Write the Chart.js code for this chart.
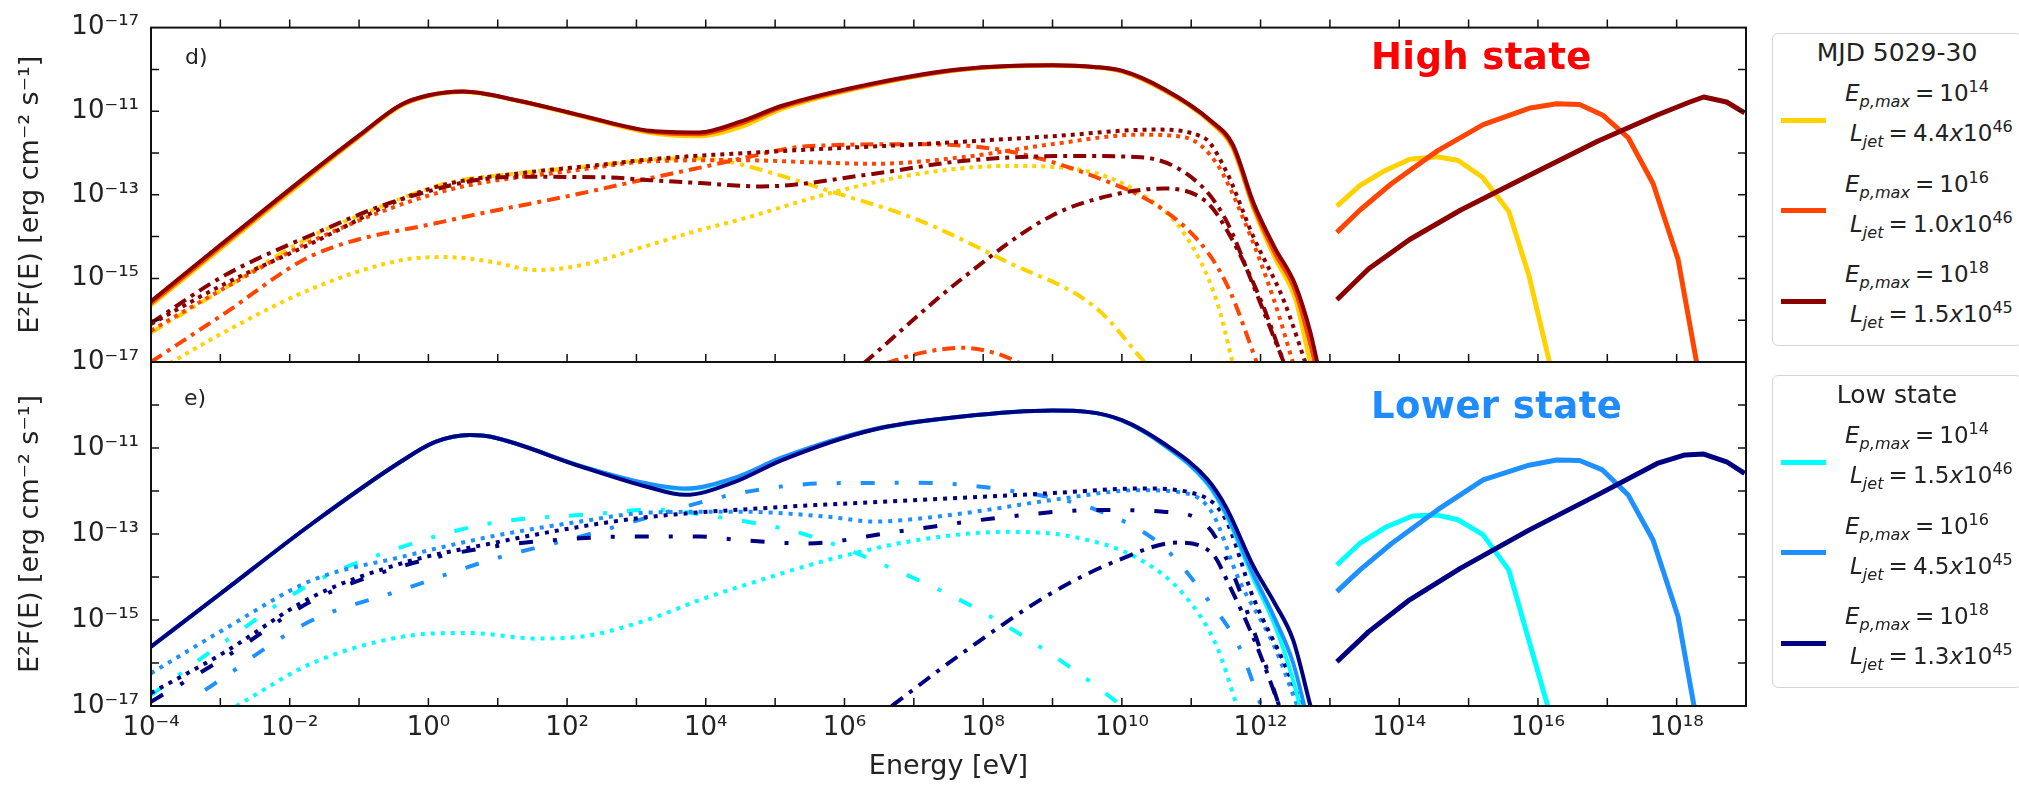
<!DOCTYPE html>
<html>
<head>
<meta charset="utf-8">
<script src="https://cdn.jsdelivr.net/npm/chart.js@4.4.1/dist/chart.umd.min.js"></script>
<style>
html,body{margin:0;padding:0;background:#fff;width:2019px;height:785px;overflow:hidden;}
#wrap{position:relative;width:2019px;height:785px;overflow:hidden;}
canvas{position:absolute;left:0;top:0;}
.t{position:absolute;font-family:"DejaVu Sans";color:#222;white-space:nowrap;}
.box{position:absolute;border:1.5px solid #d4d4d4;border-radius:6px;background:#fff;box-sizing:border-box;}
.mk{position:absolute;height:5px;}
.sb{font-size:70%;position:relative;top:0.38em;font-style:italic;}
.sp{font-size:70%;position:relative;top:-0.55em;}
.eq{margin:0 0.22em;}
</style>
</head>
<body>
<div id="wrap">
<canvas id="cd" width="2019" height="785"></canvas>
<canvas id="ce" width="2019" height="785"></canvas>
</div>
<script>
// ---------------- DATA (log10 E [eV], log10 E^2F(E) [erg cm^-2 s^-1]) ----------------
// Tick labels
const xLabelExps = [-4, -2, 0, 2, 4, 6, 8, 10, 12, 14, 16, 18];
const xTickLabels = ['10⁻⁴', '10⁻²', '10⁰', '10²', '10⁴', '10⁶', '10⁸', '10¹⁰', '10¹²', '10¹⁴', '10¹⁶', '10¹⁸'];
const xMarkExps = [-3, -2, -1, 0, 1, 2, 3, 4, 5, 6, 7, 8, 9, 10, 11, 12, 13, 14, 15, 16, 17, 18];
const yMarkExps = [-16, -15, -14, -13, -12, -11, -10];
const yLabelExpsHigh = [-17, -15, -13, -11, -9];
const yTickLabelsHigh = ['10⁻¹⁷', '10⁻¹⁵', '10⁻¹³', '10⁻¹¹', '10⁻¹⁷'];
const yLabelExpsLow = [-17, -15, -13, -11];
const yTickLabelsLow = ['10⁻¹⁷', '10⁻¹⁵', '10⁻¹³', '10⁻¹¹'];
const xTitle = 'Energy [eV]';
const yTitle = 'E²F(E) [erg cm⁻² s⁻¹]';

// ---- Panel d (high state) ----
const hiE_tot = [-4, -3, -2, -1, -0.4, 0.0, 0.5, 1.3, 2.2, 3.2, 3.9, 4.5, 5.1, 6.4, 7.7, 9.0, 9.6, 10.0, 10.6, 11.3, 11.6, 11.9, 12.2, 12.5, 12.72, 12.82];
const hiTotYellow  = [-15.65, -14.3, -12.95, -11.62, -10.88, -10.64, -10.54, -10.76, -11.12, -11.52, -11.6, -11.38, -10.95, -10.38, -10.01, -9.91, -9.95, -10.05, -10.5, -11.3, -11.9, -13.35, -14.5, -15.5, -17.03, -17.5];
const hiTotOrange  = [-15.6, -14.25, -12.9, -11.6, -10.86, -10.63, -10.53, -10.75, -11.11, -11.49, -11.55, -11.3, -10.9, -10.36, -10.0, -9.9, -9.94, -10.04, -10.48, -11.27, -11.85, -13.28, -14.38, -15.3, -16.6, -17.3];
const hiTotDarkred = [-15.55, -14.2, -12.87, -11.58, -10.85, -10.62, -10.53, -10.75, -11.1, -11.47, -11.51, -11.25, -10.87, -10.34, -9.99, -9.9, -9.94, -10.03, -10.46, -11.25, -11.8, -13.2, -14.25, -15.15, -16.3, -17.03];

const hiE_dotYellow = [-3.73, -2.96, -1.67, -0.38, 0.25, 0.9, 1.55, 2.19, 3.15, 3.92, 4.48, 5.77, 7.06, 8.34, 9.31, 10.27, 10.92, 11.37, 11.6];
const hiDotYellow   = [-17.03, -16.3, -15.24, -14.56, -14.49, -14.6, -14.8, -14.69, -14.22, -13.84, -13.6, -12.97, -12.5, -12.31, -12.38, -12.97, -13.98, -15.55, -17.03];
const hiE_ddYellow = [-4, -3, -1.67, -1, 0.25, 1.2, 2.19, 3.2, 3.9, 4.3, 5.0, 5.77, 7.06, 8.34, 9.63, 10.34];
const hiDdYellow   = [-16.3, -15.3, -13.98, -13.5, -12.73, -12.5, -12.34, -12.16, -12.13, -12.2, -12.5, -12.9, -13.6, -14.6, -15.71, -17.03];

const hiE_dotOrange = [-4, -2.96, -1.67, 0.25, 2.19, 3.2, 4.48, 5.5, 6.41, 7.7, 8.99, 10.27, 10.92, 11.37, 11.76, 12.2, 12.47];
const hiDotOrange   = [-16.25, -15.25, -14.1, -12.9, -12.4, -12.2, -12.17, -12.22, -12.26, -12.1, -11.79, -11.56, -11.63, -12.26, -13.6, -15.55, -17.03];
const hiE_ddOrange = [-4, -2.96, -1.67, 0.25, 2.19, 3.2, 3.92, 4.6, 5.45, 7.06, 8.34, 9.63, 10.6, 11.24, 11.56, 11.95];
const hiDdOrange   = [-17.0, -15.86, -14.45, -13.63, -12.97, -12.6, -12.35, -12.1, -11.84, -11.79, -11.95, -12.58, -13.36, -14.38, -15.31, -17.03];
const hiE_dd2Orange = [6.6, 7.06, 7.7, 8.2, 8.54];
const hiDd2Orange   = [-17.03, -16.8, -16.66, -16.8, -17.03];

const hiE_dotDarkred = [-4, -2.96, -1.67, -0.38, 0.25, 1.5, 2.5, 3.2, 5.13, 7.06, 8.99, 10.46, 11.18, 11.5, 11.89, 12.34, 12.65];
const hiDotDarkred   = [-16.09, -15.15, -14.15, -13.1, -12.75, -12.45, -12.28, -12.15, -11.95, -11.79, -11.6, -11.44, -11.63, -12.42, -13.98, -15.55, -17.03];
const hiE_ddDarkred = [-4, -2.96, -1.67, -0.38, 1.22, 2.5, 3.2, 3.92, 4.8, 6.41, 7.7, 9.3, 10.27, 11.11, 11.5, 11.89, 12.34];
const hiDdDarkred   = [-16.07, -14.95, -13.95, -13.1, -12.57, -12.58, -12.65, -12.72, -12.8, -12.5, -12.19, -12.07, -12.1, -12.73, -13.6, -15.15, -17.03];
const hiE_dd2Darkred = [6.28, 7.7, 8.99, 9.96, 10.6, 11.24, 11.56, 12.01, 12.34];
const hiDd2Darkred   = [-17.03, -15.0, -13.5, -12.97, -12.85, -13.2, -13.98, -15.55, -17.03];

const hiE_nuYellow = [13.1, 13.43, 13.76, 14.15, 14.55, 14.85, 15.2, 15.58, 15.87, 16.17];
const hiNuYellow   = [-13.27, -12.78, -12.45, -12.15, -12.09, -12.18, -12.58, -13.4, -14.93, -17.03];
const hiE_nuOrange = [13.1, 13.43, 13.89, 14.55, 15.21, 15.87, 16.27, 16.6, 16.93, 17.3, 17.66, 18.02, 18.29];
const hiNuOrange   = [-13.9, -13.37, -12.73, -11.95, -11.32, -10.93, -10.82, -10.84, -11.09, -11.63, -12.73, -14.54, -17.03];
const hiE_nuDarkred = [13.1, 13.56, 14.15, 14.88, 15.87, 16.86, 17.72, 18.19, 18.39, 18.72, 18.98];
const hiNuDarkred   = [-15.51, -14.77, -14.07, -13.37, -12.54, -11.72, -11.09, -10.78, -10.66, -10.78, -11.04];

// ---- Panel e (lower state) ----
const loE_tot = [-4, -3, -1.67, -0.4, 0.1, 0.6, 0.9, 2.2, 3.15, 3.7, 4.4, 5.1, 6.4, 7.7, 9.0, 9.5, 10.0, 10.6, 11.24, 11.5, 11.9, 12.2, 12.47, 12.72];
const loTotCyan = [-15.62, -14.39, -12.75, -11.32, -10.86, -10.7, -10.74, -11.42, -11.84, -11.96, -11.72, -11.24, -10.58, -10.27, -10.13, -10.16, -10.36, -10.93, -11.85, -12.55, -14.05, -15.1, -16.4, -18.0];
const loTotBlue = [-15.62, -14.39, -12.75, -11.32, -10.86, -10.7, -10.74, -11.42, -11.82, -11.94, -11.7, -11.22, -10.57, -10.27, -10.13, -10.16, -10.36, -10.92, -11.82, -12.5, -13.95, -14.95, -16.0, -17.6];
const loTotNavy = [-15.62, -14.39, -12.75, -11.32, -10.86, -10.7, -10.74, -11.43, -11.9, -12.09, -11.8, -11.28, -10.58, -10.27, -10.13, -10.16, -10.35, -10.89, -11.74, -12.37, -13.76, -14.6, -15.47, -17.0];

const loE_dotCyan = [-2.77, -1.67, -0.38, 0.58, 1.55, 2.19, 3.15, 3.92, 4.48, 5.77, 7.06, 8.34, 9.31, 10.27, 10.92, 11.37, 11.66];
const loDotCyan   = [-17, -16.0, -15.39, -15.3, -15.43, -15.39, -15.0, -14.53, -14.23, -13.6, -13.14, -12.95, -13.07, -13.6, -14.46, -15.62, -17.0];
const loE_ddCyan = [-4, -2.96, -1.67, -0.38, 0.9, 2.52, 3.2, 4.16, 5.45, 6.74, 8.02, 9.31, 10.0];
const loDdCyan   = [-16.75, -15.53, -14.14, -13.3, -12.75, -12.52, -12.43, -12.6, -13.02, -13.84, -14.84, -16.16, -17];

const loE_dotBlue = [-4, -2.96, -1.67, -0.38, 0.9, 2.19, 3.2, 4.48, 5.77, 6.41, 7.7, 8.99, 10.27, 10.92, 11.3, 11.69, 12.2, 12.53];
const loDotBlue   = [-16.24, -15.23, -14.07, -13.53, -13.06, -12.71, -12.5, -12.48, -12.6, -12.71, -12.52, -12.21, -11.98, -12.05, -12.5, -14.07, -15.62, -17.0];
const loE_ddBlue = [-3.22, -2.79, -2.39, -1.67, -0.38, 0.9, 2.19, 3.2, 4.48, 5.77, 7.06, 8.34, 9.63, 10.6, 11.24, 11.69, 12.01];
const loDdBlue   = [-16.63, -16.16, -15.7, -15.0, -14.3, -13.6, -13.06, -12.6, -12.05, -11.82, -11.81, -11.98, -12.44, -13.3, -14.53, -15.62, -17];

const loE_dotNavy = [-4, -2.96, -1.67, -0.38, 0.9, 2.19, 3.2, 5.13, 7.06, 8.99, 10.27, 11.11, 11.5, 11.89, 12.34, 12.6];
const loDotNavy   = [-16.7, -15.77, -14.46, -13.68, -13.22, -12.83, -12.6, -12.37, -12.21, -12.05, -11.94, -12.09, -12.67, -14.46, -16.0, -17.0];
const loE_ddNavy = [-4, -2.96, -1.67, -0.38, 0.9, 2.19, 2.84, 3.92, 4.48, 5.45, 6.74, 8.34, 9.63, 10.6, 11.24, 11.56, 11.95, 12.27];
const loDdNavy   = [-16.9, -15.9, -14.55, -13.75, -13.3, -13.1, -13.06, -13.06, -13.14, -13.22, -12.95, -12.6, -12.44, -12.48, -12.83, -13.76, -15.47, -17];
const loE_dd2Navy = [6.68, 7.7, 8.99, 9.96, 10.8, 11.3, 11.56, 11.95, 12.27];
const loDd2Navy   = [-17, -15.77, -14.37, -13.6, -13.2, -13.45, -14.23, -15.62, -17];

const loE_nuCyan = [13.1, 13.43, 13.82, 14.19, 14.55, 14.85, 15.21, 15.58, 15.84, 16.14];
const loNuCyan   = [-13.72, -13.22, -12.83, -12.58, -12.56, -12.67, -13.02, -13.84, -15.31, -17];
const loE_nuBlue = [13.1, 13.43, 13.89, 14.55, 15.21, 15.87, 16.27, 16.6, 16.93, 17.3, 17.66, 18.02, 18.25];
const loNuBlue   = [-14.34, -13.84, -13.22, -12.44, -11.74, -11.4, -11.28, -11.29, -11.51, -12.09, -13.14, -14.92, -17];
const loE_nuNavy = [13.1, 13.56, 14.15, 14.88, 15.87, 16.86, 17.72, 18.12, 18.39, 18.72, 18.98];
const loNuNavy   = [-15.97, -15.27, -14.53, -13.8, -12.91, -12.09, -11.36, -11.16, -11.14, -11.32, -11.59];

// Legends
const hiLegendTitle = 'MJD 5029-30';
const loLegendTitle = 'Low state';
const legendEpExps = ['14', '16', '18'];
const hiLegendL = ['4.4', '1.0', '1.5'];
const hiLegendLExp = ['46', '46', '45'];
const loLegendL = ['1.5', '4.5', '1.3'];
const loLegendLExp = ['46', '45', '45'];

// ---------------- STYLE ----------------
const COL = {gold: '#FFD200', orange: '#FF4500', darkred: '#8B0000', cyan: '#00FFFF', blue: '#1E90FF', navy: '#000080'};
const DOT_D = [4, 5], DD_D = [13, 6, 4, 6];
const DOT_E = [4, 6], DD_E = [14, 20, 4, 20], DD2_E = [14, 8, 4, 8];

Chart.defaults.font.family = 'DejaVu Sans';
Chart.defaults.color = '#222';

function series(logE, logF, color, dash, width, straight) {
  return {
    data: logE.map((e, i) => ({x: Math.pow(10, e), y: Math.pow(10, logF[i])})),
    borderColor: color, backgroundColor: color, borderWidth: width,
    borderDash: dash || [], borderCapStyle: 'butt', borderJoinStyle: 'round',
    pointRadius: 0, pointHoverRadius: 0, fill: false,
    tension: straight ? 0 : 0.4,
    cubicInterpolationMode: straight ? 'default' : 'monotone'
  };
}

const framePlugin = {
  id: 'frame',
  afterDraw(chart, args, opts) {
    const {ctx, chartArea: a, scales: {x, y}} = chart;
    ctx.save();
    ctx.strokeStyle = '#111';
    ctx.lineWidth = 1.5;
    ctx.beginPath();
    xMarkExps.forEach(e => {
      const px = x.getPixelForValue(Math.pow(10, e));
      ctx.moveTo(px, a.bottom); ctx.lineTo(px, a.bottom - 8);
      if (opts.topUp) { ctx.moveTo(px, a.top); ctx.lineTo(px, a.top - 8); }
    });
    yMarkExps.forEach(e => {
      const py = y.getPixelForValue(Math.pow(10, e));
      ctx.moveTo(a.left, py); ctx.lineTo(a.left + 8, py);
      ctx.moveTo(a.right, py); ctx.lineTo(a.right - 8, py);
    });
    ctx.stroke();
    ctx.lineWidth = 2;
    ctx.strokeRect(a.left, a.top, a.right - a.left, a.bottom - a.top);
    ctx.restore();
  }
};

function panel(id, datasets, cfg) {
  return new Chart(document.getElementById(id), {
    type: 'line',
    data: {datasets: datasets.slice().reverse()},
    options: {
      responsive: false, animation: false, devicePixelRatio: 1,
      layout: {padding: cfg.padding},
      plugins: {legend: {display: false}, tooltip: {enabled: false}, frame: {topUp: cfg.topUp}},
      scales: {
        x: {
          type: 'logarithmic', min: 1e-4, max: 1e19,
          grid: {display: false, drawTicks: false}, border: {display: false},
          afterBuildTicks: s => { s.ticks = xLabelExps.map(e => ({value: Math.pow(10, e)})); },
          afterFit: s => { s.height = cfg.xHeight; },
          ticks: {display: cfg.xLabels, autoSkip: false, maxRotation: 0, minRotation: 0, padding: 7,
                  font: {size: 26}, color: '#222', callback: (v, i) => xTickLabels[i]},
          title: {display: cfg.xLabels, text: xTitle, font: {size: 27}, color: '#222', padding: {top: 0, bottom: 2}}
        },
        y: {
          type: 'logarithmic', min: 1e-17, max: 1e-9,
          grid: {display: false, drawTicks: false}, border: {display: false},
          afterBuildTicks: s => { s.ticks = cfg.yExps.map(e => ({value: Math.pow(10, e)})); },
          afterFit: s => { s.width = 151; },
          ticks: {autoSkip: false, padding: 12, font: {size: 26}, color: '#222', callback: (v, i) => cfg.yLabels[i]},
          title: {display: true, text: yTitle, font: {size: 27}, color: '#222', padding: {top: 15, bottom: 0}}
        }
      }
    },
    plugins: [framePlugin]
  });
}

// Panel d datasets (bottom -> top)
const hiSets = [
  series(hiE_dotYellow, hiDotYellow, COL.gold, DOT_D, 4),
  series(hiE_ddYellow, hiDdYellow, COL.gold, DD_D, 4),
  series(hiE_dotOrange, hiDotOrange, COL.orange, DOT_D, 4),
  series(hiE_ddOrange, hiDdOrange, COL.orange, DD_D, 4),
  series(hiE_dd2Orange, hiDd2Orange, COL.orange, DD_D, 4),
  series(hiE_dotDarkred, hiDotDarkred, COL.darkred, DOT_D, 4),
  series(hiE_ddDarkred, hiDdDarkred, COL.darkred, DD_D, 4),
  series(hiE_dd2Darkred, hiDd2Darkred, COL.darkred, DD_D, 4),
  series(hiE_tot, hiTotYellow, COL.gold, null, 4),
  series(hiE_tot, hiTotOrange, COL.orange, null, 4),
  series(hiE_tot, hiTotDarkred, COL.darkred, null, 4),
  series(hiE_nuYellow, hiNuYellow, COL.gold, null, 5, true),
  series(hiE_nuOrange, hiNuOrange, COL.orange, null, 5, true),
  series(hiE_nuDarkred, hiNuDarkred, COL.darkred, null, 5, true)
];

const loSets = [
  series(loE_dotCyan, loDotCyan, COL.cyan, DOT_E, 4),
  series(loE_ddCyan, loDdCyan, COL.cyan, DD_E, 4),
  series(loE_dotBlue, loDotBlue, COL.blue, DOT_E, 4),
  series(loE_ddBlue, loDdBlue, COL.blue, DD_E, 4),
  series(loE_dotNavy, loDotNavy, COL.navy, DOT_E, 4),
  series(loE_ddNavy, loDdNavy, COL.navy, DD_E, 4),
  series(loE_dd2Navy, loDd2Navy, COL.navy, DD2_E, 4),
  series(loE_tot, loTotCyan, COL.cyan, null, 4),
  series(loE_tot, loTotBlue, COL.blue, null, 4),
  series(loE_tot, loTotNavy, COL.navy, null, 4),
  series(loE_nuCyan, loNuCyan, COL.cyan, null, 5, true),
  series(loE_nuBlue, loNuBlue, COL.blue, null, 5, true),
  series(loE_nuNavy, loNuNavy, COL.navy, null, 5, true)
];

panel('cd', hiSets, {padding: {left: 0, top: 21, right: 273, bottom: 423}, xHeight: 0, xLabels: false, topUp: true,
  yExps: yLabelExpsHigh, yLabels: yTickLabelsHigh});
panel('ce', loSets, {padding: {left: 0, top: 362, right: 273, bottom: 0}, xHeight: 79, xLabels: true, topUp: false,
  yExps: yLabelExpsLow, yLabels: yTickLabelsLow});

// ---------------- TEXT OVERLAYS ----------------
const wrap = document.getElementById('wrap');
function addDiv(cls, style, html) {
  const d = document.createElement('div');
  d.className = cls;
  Object.assign(d.style, style);
  d.innerHTML = html;
  wrap.appendChild(d);
  return d;
}
addDiv('t', {left: '185px', top: '46px', fontSize: '22px', lineHeight: '22px'}, 'd)');
addDiv('t', {left: '184px', top: '387px', fontSize: '22px', lineHeight: '22px'}, 'e)');
addDiv('t', {left: '1371px', top: '38px', fontSize: '37px', lineHeight: '37px', fontWeight: 'bold', color: '#FF0000', letterSpacing: '0.4px'}, 'High state');
addDiv('t', {left: '1371px', top: '387px', fontSize: '37px', lineHeight: '37px', fontWeight: 'bold', color: '#1E8CFF', letterSpacing: '0.4px'}, 'Lower state');

function legend(boxTop, boxH, title, colors, lVals, lExps) {
  addDiv('box', {left: '1772px', top: boxTop + 'px', width: '250px', height: boxH + 'px'}, '');
  addDiv('t', {left: '1797px', top: (boxTop + 5) + 'px', width: '200px', textAlign: 'center', fontSize: '25px', lineHeight: '30px'}, title);
  for (let i = 0; i < 3; i++) {
    const base = boxTop + 60 + i * 90.5;
    addDiv('t', {left: '1845px', top: (base - 14) + 'px', fontSize: '23px', lineHeight: '28px'},
      '<i>E</i><span class="sb">p,max</span><span class="eq">=</span>10<span class="sp">' + legendEpExps[i] + '</span>');
    addDiv('mk', {left: '1781px', top: (base + 24.5) + 'px', width: '45px', background: colors[i]}, '');
    addDiv('t', {left: '1850px', top: (base + 26) + 'px', fontSize: '23px', lineHeight: '28px'},
      '<i>L</i><span class="sb">jet</span><span class="eq">=</span>' + lVals[i] + '<i>x</i>10<span class="sp">' + lExps[i] + '</span>');
  }
}
legend(33, 313, hiLegendTitle, [COL.gold, COL.orange, COL.darkred], hiLegendL, hiLegendLExp);
legend(375, 313, loLegendTitle, [COL.cyan, COL.blue, COL.navy], loLegendL, loLegendLExp);
</script>
</body>
</html>
